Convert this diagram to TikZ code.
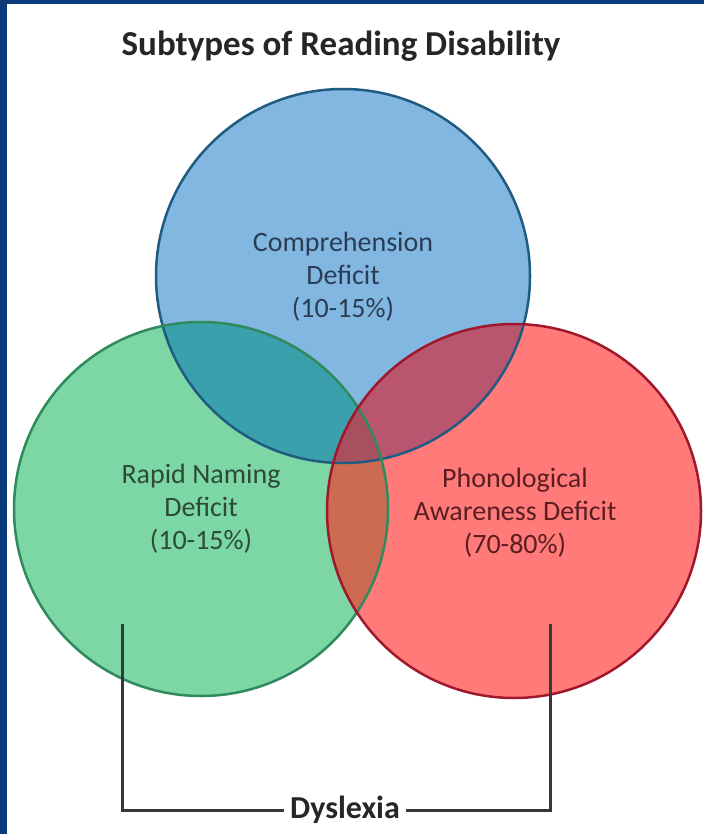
\documentclass[tikz,border=0pt]{standalone}
\usepackage{fontspec}
\setmainfont{Carlito}

\definecolor{frameblue}{HTML}{0B3A7A}
\definecolor{compfill}{HTML}{82B7E1}
\definecolor{compline}{HTML}{1F5C80}
\definecolor{comptext}{HTML}{2A3D55}
\definecolor{namefill}{HTML}{7DD7A5}
\definecolor{nameline}{HTML}{2F8A5C}
\definecolor{nametext}{HTML}{2C4A38}
\definecolor{phonfill}{HTML}{FF7A78}
\definecolor{phonline}{HTML}{A0182C}
\definecolor{phontext}{HTML}{5A1E22}
\definecolor{compname}{HTML}{3AA0AC}
\definecolor{compphon}{HTML}{B9556F}
\definecolor{namephon}{HTML}{CC6B52}
\definecolor{allthree}{HTML}{A85060}

\tikzset{
  setlabel/.style={align=center, inner sep=0pt,
    font=\fontsize{28}{33}\selectfont},
  ring/.style={line width=2.5pt},
  bracket/.style={line width=3pt, draw=black!78},
}

\begin{document}
\begin{tikzpicture}[x=1pt,y=-1pt]

    % Page and frame
    \fill[white] (0,0) rectangle (704,834);
    \fill[frameblue] (0,0) rectangle (704,4);
    \fill[frameblue] (0,0) rectangle (7,834);
    \useasboundingbox (0,0) rectangle (704,834);

    % Title
    \node[font=\bfseries\fontsize{35}{40}\selectfont, text=black!85]
        (title) at (341,46) {Subtypes of Reading Disability};

    % Centres of the three sets
    \coordinate (comp) at (343,276);
    \coordinate (name) at (201,509);
    \coordinate (phon) at (514,511);

    % Fills
    \fill[compfill] (comp) circle[radius=187pt];
    \fill[namefill] (name) circle[radius=187pt];
    \fill[phonfill] (phon) circle[radius=187pt];

    % Overlaps
    \begin{scope}
        \clip (comp) circle[radius=187pt];
        \fill[compname] (name) circle[radius=187pt];
        \fill[compphon] (phon) circle[radius=187pt];
    \end{scope}
    \begin{scope}
        \clip (name) circle[radius=187pt];
        \fill[namephon] (phon) circle[radius=187pt];
        \clip (comp) circle[radius=187pt];
        \fill[allthree] (phon) circle[radius=187pt];
    \end{scope}

    % Outlines
    \draw[ring, compline] (comp) circle[radius=187pt];
    \draw[ring, nameline] (name) circle[radius=187pt];
    \draw[ring, phonline] (phon) circle[radius=187pt];

    % Labels
    \node[setlabel, text=comptext] (comptxt) at (343,277)
        {Comprehension\\Deficit\\(10-15\%)};
    \node[setlabel, text=nametext] (nametxt) at (201,509)
        {Rapid Naming\\Deficit\\(10-15\%)};
    \node[setlabel, text=phontext] (phontxt) at (515,513)
        {Phonological\\Awareness Deficit\\(70-80\%)};

    % Dyslexia bracket
    \node[font=\bfseries\fontsize{32}{36}\selectfont, text=black!85,
        inner sep=6pt] (dys) at (345,810) {Dyslexia};
    \coordinate (lefttop) at (122,624);
    \coordinate (righttop) at (550,624);
    \draw[bracket] (dys.west) -| (lefttop);
    \draw[bracket] (dys.east) -| (righttop);

\end{tikzpicture}
\end{document}
